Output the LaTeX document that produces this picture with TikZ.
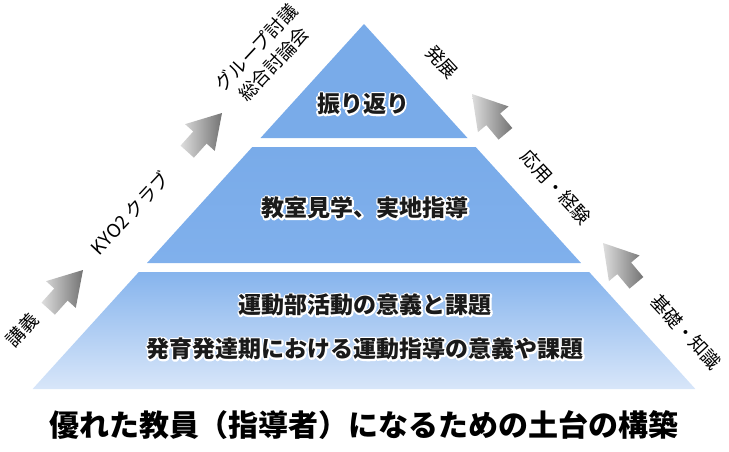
\documentclass[tikz,border=0pt]{standalone}
\usepackage{fontspec}
\setmainfont{Noto Sans CJK JP}
\definecolor{tierA}{RGB}{121,171,233}
\definecolor{tierBtop}{RGB}{121,171,233}
\definecolor{tierBbot}{RGB}{128,176,236}
\definecolor{tierCtop}{RGB}{134,180,237}
\definecolor{tierCbot}{RGB}{216,230,249}
\definecolor{arrLight}{RGB}{222,222,222}
\definecolor{arrDark}{RGB}{115,115,115}
\definecolor{txtdark}{RGB}{26,26,26}
% white outline behind the text: one stroked copy, then the filled text
\newcommand\halo[1]{\rlap{\color{white}\special{pdf:literal direct 1 Tr 3.4 w 1 j}#1\special{pdf:literal direct 0 Tr 0.4 w 0 j}}#1}
\tikzset{
  tiertext/.style={font=\bfseries\fontsize{23}{27}\selectfont, text=txtdark, inner sep=0pt},
  sidelabel/.style={font=\fontsize{18.5}{24}\selectfont, text=black, inner sep=0pt, align=center},
  titletext/.style={font=\bfseries\fontsize{30}{35}\selectfont, text=black, inner sep=0pt},
  blockarrow/.style={left color=arrLight, right color=arrDark, draw=none}
}
\newcommand\blockarrow[2]{%
  \begin{scope}[shift={#1}, rotate=#2]
    \shade[blockarrow] (0,0) -- (-33,-20) -- (-33,-9) -- (-52,-9) -- (-52,9) -- (-33,9) -- (-33,20) -- cycle;
  \end{scope}}
\begin{document}
\begin{tikzpicture}[x=1pt, y=-1pt]
\useasboundingbox (0,0) rectangle (729,451);
% tiers
\fill[tierA] (364,24) -- (467.5,138) -- (260.5,138) -- cycle;
\shade[top color=tierBtop, bottom color=tierBbot] (252.3,147) -- (475.7,147) -- (581,263) -- (147,263) -- cycle;
\shade[top color=tierCtop, bottom color=tierCbot] (138.8,272) -- (589.2,272) -- (695.4,389) -- (32.6,389) -- cycle;
% tier texts
\node[tiertext] (t1) at (363,104) {\halo{振り返り}};
\node[tiertext] (t2) at (365,208) {\halo{教室見学、実地指導}};
\node[tiertext] (t3a) at (365,305) {\halo{運動部活動の意義と課題}};
\node[tiertext] (t3b) at (365,349) {\halo{発育発達期における運動指導の意義や課題}};
% title
\node[titletext] (title) at (364,425) {優れた教員（指導者）になるための土台の構築};
% arrows
\blockarrow{(83,270)}{48}
\blockarrow{(222,113)}{48}
\blockarrow{(472,94)}{130}
\blockarrow{(603,243)}{130}
% side labels
\node[sidelabel, rotate=47] (l1) at (22,330) {講義};
\node[sidelabel, rotate=47] (l2) at (130,213) {KYO2 クラブ};
\node[sidelabel, rotate=47] (l3) at (265,56) {グループ討議\\総合討論会};
\node[sidelabel, rotate=-47] (r1) at (442,62) {発展};
\node[sidelabel, rotate=-47] (r2) at (556,187) {応用・経験};
\node[sidelabel, rotate=-47] (r3) at (686,332) {基礎・知識};
\end{tikzpicture}
\end{document}
